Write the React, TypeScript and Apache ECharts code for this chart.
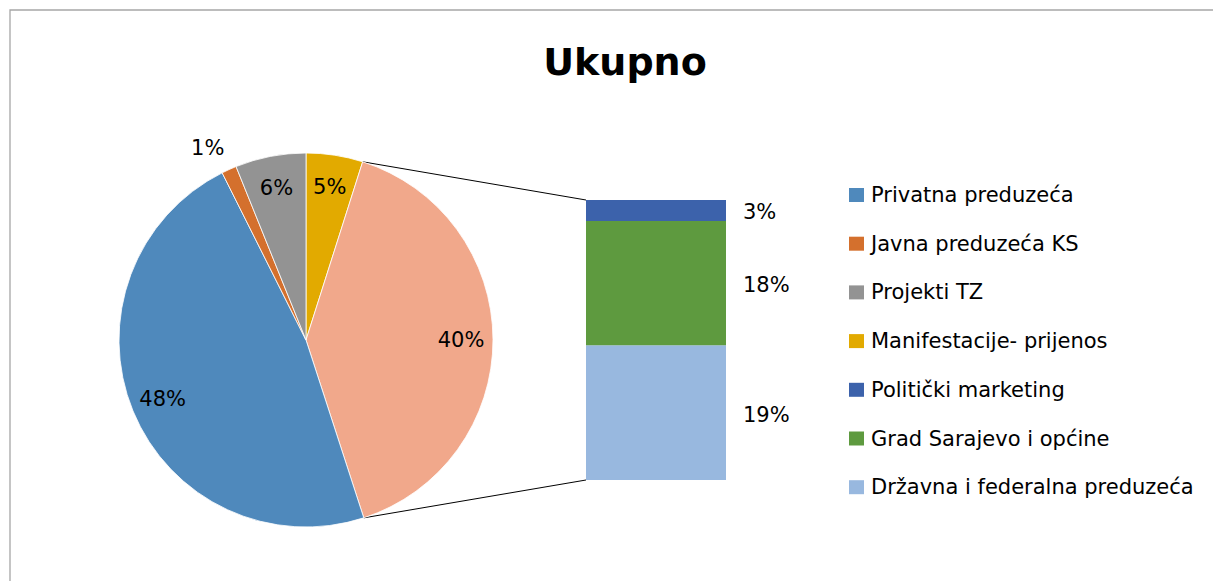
import React, { useEffect, useRef } from "react";
import * as echarts from "echarts";

// ---- data ----
const chartTitle = "Ukupno";
const pieNames = ["Privatna preduzeća", "Javna preduzeća KS", "Projekti TZ", "Manifestacije- prijenos"];
const pieValues = [47.6, 1.3, 6.1, 4.9];
const barNames = ["Politički marketing", "Grad Sarajevo i općine", "Državna i federalna preduzeća"];
const barValues = [3.0, 17.8, 19.3];
const otherName = "Ostalo";
// order of slices clockwise from 12 o'clock (index into pieNames, -1 = aggregated "other")
const pieDrawOrder = [3, -1, 0, 1, 2];

// ---- styles ----
const pieColors = ["#4F89BC", "#D4702D", "#939393", "#E2AA00"];
const otherColor = "#F1A88B";
const barColors = ["#3C62AB", "#5E9A3F", "#98B8DF"];
const FONT = "DejaVu Sans";
const CX = 306, CY = 340, R = 187;
const GRID = { left: 586, top: 200, width: 140, height: 280 };

const sum = (a: number[]) => a.reduce((s, v) => s + v, 0);
const otherTotal = sum(barValues);
const total = sum(pieValues) + otherTotal;
const pct = (v: number) => Math.round((v / total) * 100) + "%";

export default function App() {
  const ref = useRef<HTMLDivElement>(null);
  useEffect(() => {
    if (!ref.current) return;
    const chart = echarts.init(ref.current, null, { renderer: "svg" });

    const slices = pieDrawOrder.map((i) =>
      i < 0
        ? { name: otherName, value: otherTotal, color: otherColor }
        : { name: pieNames[i], value: pieValues[i], color: pieColors[i] }
    );

    const labelStyle = { fontFamily: FONT, fontSize: 21, color: "#000" };

    const option: any = {
      animation: false,
      backgroundColor: "#fff",
      legend: {
        orient: "vertical",
        left: 849,
        top: 183,
        padding: 0,
        itemWidth: 15,
        itemHeight: 14,
        itemGap: 24.7,
        icon: "rect",
        selectedMode: false,
        data: [...pieNames, ...barNames],
        itemStyle: { borderWidth: 0 },
        textStyle: { fontFamily: FONT, fontSize: 21, color: "#000", lineHeight: 24, padding: [0, 0, 0, 2] },
      },
      grid: { ...GRID },
      xAxis: { type: "category", data: [otherName], show: false },
      yAxis: { type: "value", min: 0, max: otherTotal, show: false },
      series: [
        {
          type: "pie",
          center: [CX, CY],
          radius: [0, R],
          startAngle: 90,
          clockwise: true,
          silent: true,
          label: { show: false },
          labelLine: { show: false },
          itemStyle: { borderColor: "#fff", borderWidth: 0.8 },
          data: slices.map((s) => ({ name: s.name, value: s.value, itemStyle: { color: s.color } })),
        },
        {
          // label carrier for inside labels
          type: "pie",
          center: [CX, CY],
          radius: [117, R],
          startAngle: 90,
          clockwise: true,
          silent: true,
          labelLine: { show: false },
          itemStyle: { color: "transparent" },
          data: slices.map((s) => ({
            name: "in-" + s.name,
            value: s.value,
            label: {
              show: (s.value / total) * 100 >= 3,
              position: "inside",
              formatter: () => pct(s.value),
              ...labelStyle,
            },
          })),
        },
        {
          // label carrier for small slices (outside)
          type: "pie",
          center: [CX, CY],
          radius: [R, 241],
          startAngle: 90,
          clockwise: true,
          silent: true,
          labelLine: { show: false },
          itemStyle: { color: "transparent" },
          data: slices.map((s) => ({
            name: "out-" + s.name,
            value: s.value,
            label: {
              show: (s.value / total) * 100 < 3,
              position: "inside",
              offset: [-9, 6],
              formatter: () => pct(s.value),
              ...labelStyle,
            },
          })),
        },
        ...barNames
          .map((n, i) => ({ n, i }))
          .reverse()
          .map(({ n, i }) => ({
            type: "bar",
            name: n,
            stack: "other",
            barWidth: "100%",
            silent: true,
            itemStyle: { color: barColors[i] },
            label: {
              show: true,
              position: "right",
              distance: 17,
              offset: [0, 2],
              formatter: () => pct(barValues[i]),
              ...labelStyle,
            },
            data: [barValues[i]],
          })),
      ],
    };
    chart.setOption(option);

    // connector lines from the "other" slice edges to the bar
    let before = 0;
    for (const i of pieDrawOrder) {
      if (i < 0) break;
      before += pieValues[i];
    }
    const a1 = (before / total) * 2 * Math.PI;
    const a2 = ((before + otherTotal) / total) * 2 * Math.PI;
    const p1 = [CX + R * Math.sin(a1), CY - R * Math.cos(a1)];
    const p2 = [CX + R * Math.sin(a2), CY - R * Math.cos(a2)];
    const yTop = chart.convertToPixel({ yAxisIndex: 0 }, otherTotal) as number;
    const yBot = chart.convertToPixel({ yAxisIndex: 0 }, 0) as number;
    const xLeft = GRID.left;

    chart.setOption({
      graphic: [
        {
          type: "rect",
          shape: { x: 10, y: 10, width: 1400, height: 800 },
          style: { fill: "none", stroke: "#a6a6a6", lineWidth: 1.3 },
          silent: true,
          z: -1,
        },
        {
          type: "text",
          x: 625,
          y: 62,
          style: {
            text: chartTitle,
            fontFamily: FONT,
            fontWeight: "bold",
            fontSize: 38,
            fill: "#000",
            align: "center",
            verticalAlign: "middle",
          },
        },
        {
          type: "line",
          shape: { x1: p1[0], y1: p1[1], x2: xLeft, y2: yTop },
          style: { stroke: "#000", lineWidth: 1 },
        },
        {
          type: "line",
          shape: { x1: p2[0], y1: p2[1], x2: xLeft, y2: yBot },
          style: { stroke: "#000", lineWidth: 1 },
        },
      ],
    });

    return () => chart.dispose();
  }, []);

  return (
    <div
      ref={ref}
      style={{ position: "fixed", left: 0, top: 0, width: 1213, height: 581, background: "#fff" }}
    />
  );
}
